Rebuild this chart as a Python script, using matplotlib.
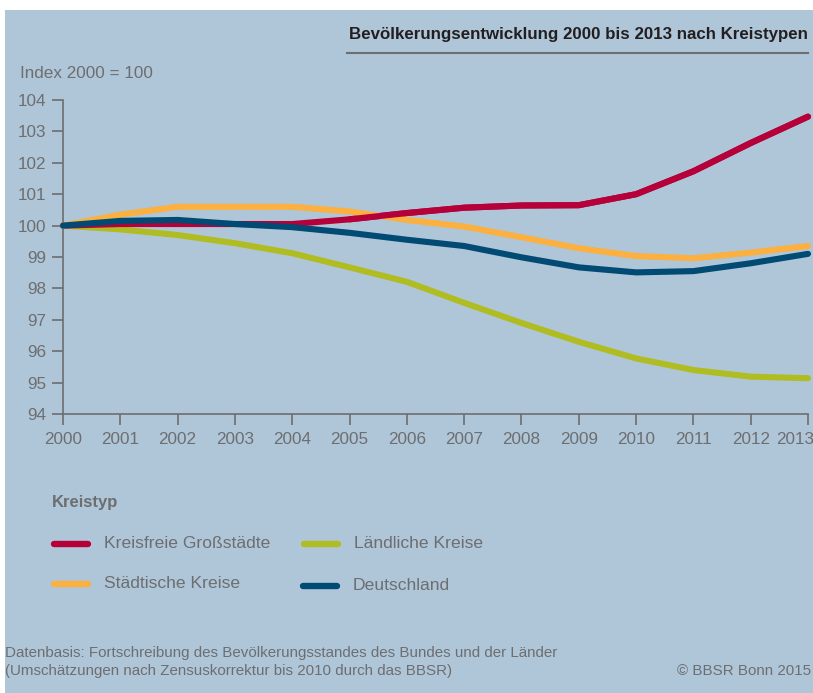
import matplotlib
matplotlib.use("Agg")
import matplotlib.pyplot as plt
import matplotlib.patches as mpatches
from matplotlib.lines import Line2D
from matplotlib.transforms import ScaledTranslation

years = list(range(2000, 2014))
grossstaedte = [100.0, 100.05, 100.05, 100.05, 100.05, 100.2, 100.4, 100.57, 100.64, 100.65, 101.0, 101.73, 102.63, 103.47]
staedtische = [100.0, 100.35, 100.6, 100.6, 100.6, 100.45, 100.18, 99.97, 99.63, 99.28, 99.03, 98.96, 99.14, 99.35]
laendliche = [100.0, 99.88, 99.7, 99.44, 99.12, 98.67, 98.21, 97.54, 96.9, 96.3, 95.77, 95.4, 95.19, 95.14]
deutschland = [100.0, 100.15, 100.18, 100.05, 99.95, 99.77, 99.55, 99.35, 98.99, 98.67, 98.51, 98.55, 98.8, 99.1]
y_ticks = [94, 95, 96, 97, 98, 99, 100, 101, 102, 103, 104]

BG = "#afc6d9"
GREY = "#6d6e70"
RED = "#b5003a"
ORANGE = "#fbb040"
GREEN = "#afbd22"
BLUE = "#004a73"
FONT = ["Liberation Sans Narrow", "Liberation Sans", "DejaVu Sans"]

plt.rcParams["font.family"] = FONT

W, H = 813, 693
fig = plt.figure(figsize=(W / 100, H / 100), dpi=100)
fig.patch.set_facecolor("white")


def fx(px):
    return px / W


def fy(py):
    return 1 - py / H


# blue panel, kept under the axes
fig.patches.append(mpatches.Rectangle((fx(5), 0), 1, fy(10), transform=fig.transFigure,
                                      color=BG, linewidth=0, zorder=-10))

ax = fig.add_axes([fx(63), fy(414), fx(808) - fx(63), fy(100) - fy(414)])
ax.set_facecolor("none")
ax.set_zorder(1)

series = [
    (grossstaedte, RED, 3),
    (laendliche, GREEN, 2),
    (staedtische, ORANGE, 4),
    (deutschland, BLUE, 5),
]
for vals, col, z in series:
    ax.plot(years, vals, color=col, lw=4.4, solid_capstyle="round",
            solid_joinstyle="round", clip_on=False, zorder=z)
# red crosses above the others after 2005
ax.plot(years[5:], grossstaedte[5:], color=RED, lw=4.4, solid_capstyle="round",
        solid_joinstyle="round", clip_on=False, zorder=6)

ax.set_xlim(2000, 2013)
ax.set_ylim(94, 104)
ax.set_xticks(years)
ax.set_yticks(y_ticks)
for s in ["top", "right"]:
    ax.spines[s].set_visible(False)
for s in ["left", "bottom"]:
    ax.spines[s].set_color(GREY)
    ax.spines[s].set_linewidth(1.2)
ax.tick_params(axis="both", colors=GREY, labelcolor=GREY, length=8, width=1.2, labelsize=12.3)
ax.tick_params(axis="y", pad=4)
ax.tick_params(axis="x", pad=5)
# last year label sits at the panel edge: nudge it left so it stays inside
last = ax.get_xticklabels()[-1]
last.set_transform(last.get_transform() + ScaledTranslation(-0.13, 0, fig.dpi_scale_trans))

# title
fig.text(fx(808), fy(35), "Bevölkerungsentwicklung 2000 bis 2013 nach Kreistypen",
         ha="right", va="center", fontsize=12.2, weight="bold", color="#231f20")
fig.add_artist(Line2D([fx(347), fx(808)], [fy(53), fy(53)], transform=fig.transFigure,
                      color=GREY, lw=1.5))
fig.text(fx(20), fy(73), "Index 2000 = 100", ha="left", va="center", fontsize=12.3, color=GREY)

# legend
fig.text(fx(52), fy(503), "Kreistyp", ha="left", va="center", fontsize=12, weight="bold", color=GREY)
legend_items = [
    ("Kreisfreie Großstädte", RED, 52, 544),
    ("Ländliche Kreise", GREEN, 302, 544),
    ("Städtische Kreise", ORANGE, 52, 584),
    ("Deutschland", BLUE, 301, 586),
]
for label, col, x0, y0 in legend_items:
    fig.add_artist(Line2D([fx(x0 + 2), fx(x0 + 36)], [fy(y0), fy(y0)], transform=fig.transFigure,
                          color=col, lw=4.6, solid_capstyle="round"))
    fig.text(fx(x0 + 52), fy(y0), label, ha="left", va="center", fontsize=12.6, color=GREY)

# footer
fig.text(fx(5), fy(653), "Datenbasis: Fortschreibung des Bevölkerungsstandes des Bundes und der Länder",
         ha="left", va="center", fontsize=10.9, color=GREY)
fig.text(fx(5), fy(671), "(Umschätzungen nach Zensuskorrektur bis 2010 durch das BBSR)",
         ha="left", va="center", fontsize=10.9, color=GREY)
fig.text(fx(811), fy(671), "© BBSR Bonn 2015", ha="right", va="center", fontsize=10.9, color=GREY)

fig.savefig("out.png", dpi=100, facecolor=fig.get_facecolor())
